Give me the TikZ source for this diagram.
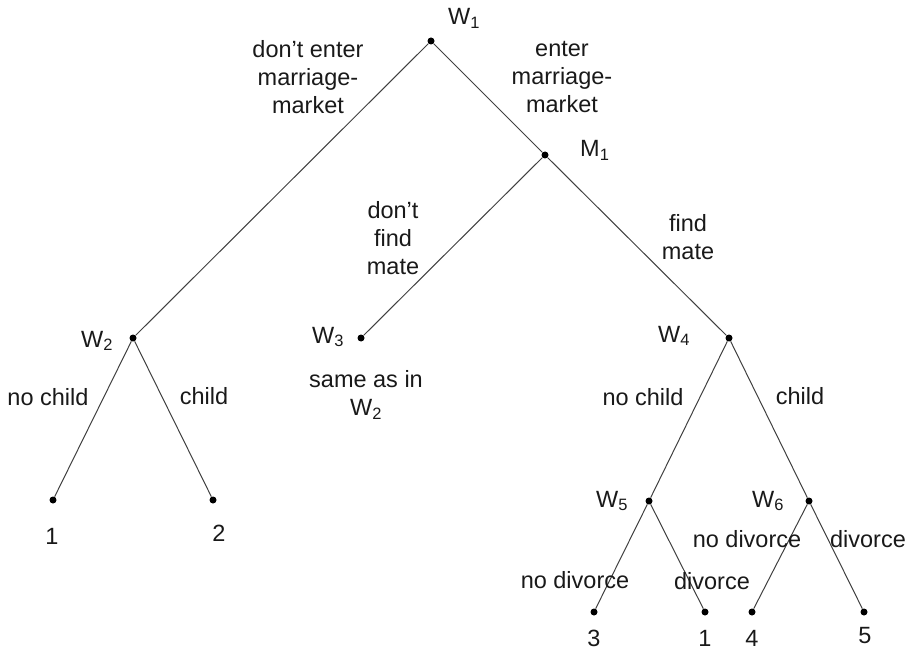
\documentclass[tikz,border=0pt]{standalone}
\usepackage{fontspec}
\setmainfont{Liberation Sans}
\begin{document}
\begin{tikzpicture}[x=1pt,y=-1pt,
  dot/.style={circle,fill=black,inner sep=0pt,minimum size=7pt},
  lbl/.style={font=\fontsize{23.5}{28}\selectfont,align=center,inner sep=0pt,text=black!90},
  wl/.style={lbl,anchor=base west},
  bl/.style={lbl,anchor=base},
  edge/.style={draw=black!75,line width=1pt}]
\useasboundingbox (0,0) rectangle (911,658);
% decision nodes
\node[dot] (w1) at (431,41) {};
\node[dot] (m1) at (545,155) {};
\node[dot] (w2) at (133,338) {};
\node[dot] (w3) at (361,338) {};
\node[dot] (w4) at (729,338) {};
\node[dot] (w5) at (649,501) {};
\node[dot] (w6) at (809,501) {};
% leaves
\node[dot] (l1) at (53,500) {};
\node[dot] (l2) at (213,500) {};
\node[dot] (l3) at (594,612) {};
\node[dot] (l4) at (705,612) {};
\node[dot] (l5) at (752,612) {};
\node[dot] (l6) at (864,612) {};
% edges
\draw[edge] (w1) -- (w2);
\draw[edge] (w1) -- (m1);
\draw[edge] (m1) -- (w3);
\draw[edge] (m1) -- (w4);
\draw[edge] (w2) -- (l1);
\draw[edge] (w2) -- (l2);
\draw[edge] (w4) -- (w5);
\draw[edge] (w4) -- (w6);
\draw[edge] (w5) -- (l3);
\draw[edge] (w5) -- (l4);
\draw[edge] (w6) -- (l5);
\draw[edge] (w6) -- (l6);
% node names
\node[wl] (tw1) at (448,25) {W\textsubscript{1}};
\node[wl] (tm1) at (580,157) {M\textsubscript{1}};
\node[wl] (tw2) at (81,347) {W\textsubscript{2}};
\node[wl] (tw3) at (312,343) {W\textsubscript{3}};
\node[wl] (tw4) at (658,342) {W\textsubscript{4}};
\node[wl] (tw5) at (596,507) {W\textsubscript{5}};
\node[wl] (tw6) at (752,507) {W\textsubscript{6}};
% branch labels
\node[lbl] (a1) at (308,77) {don’t enter\\marriage-\\market};
\node[lbl] (a2) at (562,77) {enter\\marriage-\\market};
\node[lbl] (a3) at (393,238) {don’t\\find\\mate};
\node[lbl] (a4) at (688,237) {find\\mate};
\node[lbl] (a5) at (366,395) {same as in\\W\textsubscript{2}};
\node[bl] (b1) at (48,405) {no child};
\node[bl] (b2) at (204,404) {child};
\node[bl] (b3) at (643,405) {no child};
\node[bl] (b4) at (800,404) {child};
\node[bl] (c1) at (747,547) {no divorce};
\node[bl] (c2) at (868,547) {divorce};
\node[bl] (c3) at (575,588) {no divorce};
\node[bl] (c4) at (712,589) {divorce};
% payoffs
\node[bl] (p1) at (52,544) {1};
\node[bl] (p2) at (219,541) {2};
\node[bl] (p3) at (594,646) {3};
\node[bl] (p4) at (705,646) {1};
\node[bl] (p5) at (752,646) {4};
\node[bl] (p6) at (865,643) {5};
\end{tikzpicture}
\end{document}
